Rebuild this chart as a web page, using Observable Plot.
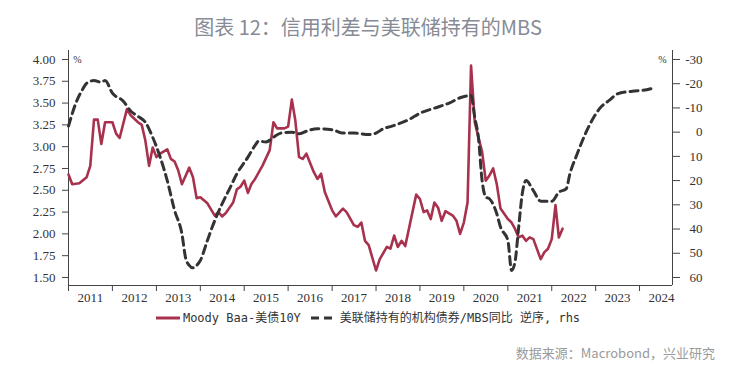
<!DOCTYPE html>
<html><head><meta charset="utf-8">
<script src="https://cdn.jsdelivr.net/npm/d3@7"></script>
<script src="https://cdn.jsdelivr.net/npm/@observablehq/plot@0.6"></script>
<style>
body{margin:0;background:#fff;width:736px;height:375px;position:relative;overflow:hidden;font-family:"Noto Sans CJK SC",sans-serif}
#title{position:absolute;top:13px;left:0;width:736px;text-align:center;font-size:20px;line-height:28px;color:#868b95;}
#chart{position:absolute;top:40px;left:0}
#legend{position:absolute;top:309px;left:0;width:736px;display:flex;justify-content:center;align-items:center;font-family:"DejaVu Sans Mono","Noto Sans CJK SC",monospace;font-size:12px;color:#333;line-height:18px}
#legend svg{margin-right:3px}
#source{position:absolute;top:343px;right:21px;font-size:13px;line-height:20px;color:#9a9a9a}
</style></head>
<body>
<div id="title">图表 12：信用利差与美联储持有的MBS</div>
<div id="chart"></div>
<div id="legend"></div>
<div id="source">数据来源：Macrobond，兴业研究</div>
<script>
// Moody Baa - 10Y Treasury spread (%, left axis)
const spreadMonths = ["2011-01","2011-02","2011-04","2011-06","2011-07","2011-08","2011-09","2011-10","2011-11","2012-01","2012-02","2012-03","2012-05","2012-06","2012-08","2012-09","2012-10","2012-11","2012-12","2013-01","2013-02","2013-04","2013-05","2013-06","2013-07","2013-08","2013-10","2013-11","2013-12","2014-01","2014-03","2014-05","2014-06","2014-07","2014-08","2014-10","2014-11","2014-12","2015-01","2015-02","2015-03","2015-04","2015-06","2015-08","2015-09","2015-10","2015-12","2016-01","2016-02","2016-03","2016-04","2016-05","2016-06","2016-08","2016-09","2016-10","2016-11","2017-01","2017-02","2017-04","2017-05","2017-07","2017-08","2017-09","2017-10","2017-11","2018-01","2018-02","2018-04","2018-05","2018-06","2018-07","2018-08","2018-09","2018-12","2019-01","2019-02","2019-03","2019-04","2019-05","2019-06","2019-07","2019-08","2019-10","2019-11","2019-12","2020-01","2020-02","2020-03","2020-04","2020-05","2020-06","2020-07","2020-08","2020-09","2020-10","2020-11","2021-01","2021-02","2021-03","2021-04","2021-05","2021-06","2021-07","2021-08","2021-10","2021-11","2021-12","2022-01","2022-02","2022-03","2022-04"];
const spreadValues = [2.68,2.57,2.58,2.65,2.78,3.31,3.31,3.03,3.28,3.28,3.15,3.10,3.43,3.36,3.28,3.25,3.07,2.78,2.99,2.88,2.92,2.97,2.86,2.83,2.73,2.57,2.76,2.65,2.41,2.42,2.35,2.21,2.25,2.20,2.24,2.36,2.51,2.54,2.61,2.47,2.57,2.63,2.78,2.96,3.28,3.21,3.21,3.23,3.54,3.30,2.88,2.86,2.92,2.71,2.63,2.69,2.48,2.27,2.20,2.29,2.25,2.10,2.08,2.13,1.92,1.87,1.58,1.71,1.85,1.83,1.98,1.85,1.92,1.86,2.45,2.40,2.25,2.27,2.17,2.36,2.30,2.15,2.26,2.21,2.15,2.00,2.13,2.36,3.93,3.28,3.11,2.94,2.61,2.67,2.75,2.57,2.29,2.17,2.13,2.06,1.96,1.98,1.92,1.96,1.94,1.71,1.79,1.83,1.94,2.33,1.96,2.06];

// Fed holdings of agency debt / MBS, YoY (%, right axis, reversed)
const mbsMonths = ["2011-01","2011-03","2011-05","2011-06","2011-08","2011-10","2011-11","2012-01","2012-04","2012-06","2012-08","2012-10","2012-12","2013-02","2013-04","2013-06","2013-08","2013-09","2013-10","2013-11","2013-12","2014-01","2014-03","2014-05","2014-07","2014-09","2014-11","2015-02","2015-04","2015-05","2015-07","2015-09","2015-11","2016-02","2016-04","2016-06","2016-09","2017-01","2017-04","2017-07","2017-11","2018-01","2018-03","2018-05","2018-10","2019-01","2019-05","2019-09","2019-12","2020-03","2020-04","2020-05","2020-06","2020-07","2020-08","2020-10","2020-11","2021-01","2021-02","2021-03","2021-04","2021-05","2021-06","2021-08","2021-10","2022-01","2022-03","2022-05","2022-06","2022-08","2022-10","2022-12","2023-02","2023-05","2023-07","2023-11","2024-03","2024-05"];
const mbsValues = [-2.5,-11.7,-17.9,-20.2,-21.3,-20.6,-21.3,-16.1,-12.8,-8.7,-6.5,-4.1,2.1,10.3,20.0,32.3,42,52,55,56,55,53,44.7,36.5,29.6,23.4,17.2,10.3,5.5,3.7,4.1,2.1,0.4,0,0.7,-0.4,-1.4,-1.0,0.4,0.4,1.0,0.4,-1.4,-2.3,-5.2,-7.8,-9.9,-12,-14.2,-15.1,-6,2.1,20,26.8,27.5,33.7,39.2,44.7,57.1,53.7,39.2,25.4,20,24.1,28.5,28.5,24.8,23.4,17.2,8.9,1.4,-4.8,-9.6,-13.4,-15.8,-16.9,-17.5,-18.3];

const leftTicks = [1.50,1.75,2.00,2.25,2.50,2.75,3.00,3.25,3.50,3.75,4.00];
const rightTicks = [-30,-20,-10,0,10,20,30,40,50,60];
const yearLabels = [2011,2012,2013,2014,2015,2016,2017,2018,2019,2020,2021,2022,2023,2024];

const parse = d3.utcParse("%Y-%m");
const spread = spreadMonths.map((m,i)=>({date:parse(m), value:spreadValues[i]}));
const mbs = mbsMonths.map((m,i)=>({date:parse(m), value:mbsValues[i]}));

// right axis (reversed) mapped into left units: -30 -> 4.00, 60 -> 1.50
const toLeft = r => 4 - (r + 30) * 2.5 / 90;
const fromLeft = v => { const r = Math.round((4 - v) * 36 - 30); return r === 0 ? 0 : r; };

const xDomain = [new Date(Date.UTC(2011,0,1)), new Date(Date.UTC(2024,9,1))];
const yDomain = [1.408, 4.103];
const yearStarts = yearLabels.map(y => new Date(Date.UTC(y,0,1)));
const yearMids = yearLabels.map(y => new Date(Date.UTC(y,6,2)));

const serif = "Liberation Serif, Times New Roman, serif";
const axisFont = {fontFamily:serif, fontSize:13, fill:"#333"};
const red = "#a8324e";

const chart = Plot.plot({
  width: 736, height: 270,
  marginLeft: 68, marginRight: 64, marginTop: 10, marginBottom: 25,
  style: {background:"transparent", overflow:"visible", fontFamily:serif, fontSize:"13px", color:"#333"},
  x: {type:"utc", domain:xDomain, label:null},
  y: {domain:yDomain, label:null},
  marks: [
    Plot.ruleX([xDomain[0], xDomain[1]], {stroke:"#444", strokeWidth:1}),
    Plot.ruleY([yDomain[0]], {stroke:"#444", strokeWidth:1}),
    Plot.axisY(leftTicks, {anchor:"left", label:null, tickSize:6, tickPadding:7, tickFormat:d3.format(".2f"), stroke:"#444", ...axisFont}),
    Plot.axisY(rightTicks.map(toLeft), {anchor:"right", label:null, tickSize:7, tickPadding:23, textAnchor:"end", tickFormat:fromLeft, stroke:"#444", ...axisFont}),
    Plot.axisX(yearStarts, {anchor:"bottom", label:null, tickSize:6, tickFormat:()=>"", stroke:"#444"}),
    Plot.axisX(yearMids, {anchor:"bottom", label:null, tickSize:0, tickPadding:7, tickFormat:d=>String(d.getUTCFullYear()), ...axisFont}),
    Plot.text(["%"], {x:()=>xDomain[0], y:()=>leftTicks[leftTicks.length-1], dx:9, fontSize:10, fill:"#333", fontFamily:serif}),
    Plot.text(["%"], {x:()=>xDomain[1], y:()=>leftTicks[leftTicks.length-1], dx:-10, fontSize:10, fill:"#333", fontFamily:serif}),
    Plot.line(spread, {x:"date", y:"value", stroke:red, strokeWidth:2.6, strokeLinejoin:"round"}),
    Plot.line(mbs, {x:"date", y:d=>toLeft(d.value), stroke:"#333", strokeWidth:3, strokeDasharray:"8,5", curve:"monotone-x"})
  ]
});
document.getElementById("chart").appendChild(chart);

const legend = document.getElementById("legend");
legend.innerHTML =
  `<svg width="24" height="10"><line x1="0" y1="5" x2="24" y2="5" stroke="${red}" stroke-width="3"/></svg>` +
  `<span>Moody Baa-美债10Y</span>` +
  `<svg width="26" height="10" style="margin-left:10px"><line x1="0" y1="5" x2="26" y2="5" stroke="#333" stroke-width="3" stroke-dasharray="8,5"/></svg>` +
  `<span>美联储持有的机构债券/MBS同比 逆序, rhs</span>`;
</script>
</body></html>
